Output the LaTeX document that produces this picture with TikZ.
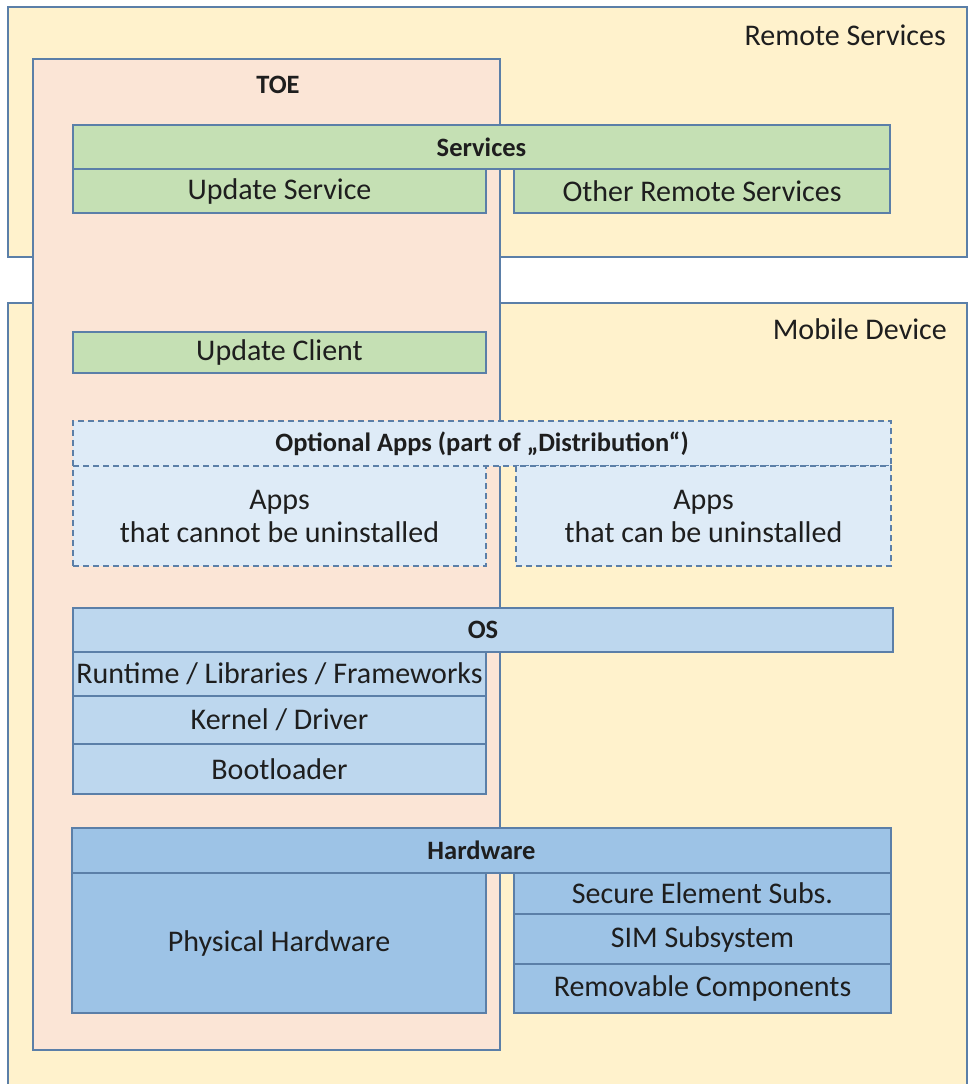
\documentclass[tikz,border=0pt]{standalone}
\usepackage{fontspec}
\setmainfont{Carlito}
\usetikzlibrary{positioning}
\definecolor{edge}{HTML}{5B7FA8}
\definecolor{shell}{HTML}{FFF2CC}
\definecolor{toefill}{HTML}{FBE5D6}
\definecolor{svcgreen}{HTML}{C5E0B4}
\definecolor{appblue}{HTML}{DEEBF7}
\definecolor{osblue}{HTML}{BDD7EE}
\definecolor{hwblue}{HTML}{9DC3E6}
\definecolor{ink}{HTML}{1E1E1E}
\tikzset{
  every picture/.style={line join=miter},
  wh/.style 2 args={minimum width=#1pt, minimum height=#2pt},
  layer/.style={draw=edge, line width=1.5pt, inner sep=0pt, outer sep=0pt,
    anchor=north west, text=ink, align=center, font=\fontsize{30}{33}\selectfont},
  head/.style={font=\fontsize{26.5}{30}\selectfont\bfseries},
  shellbox/.style={layer, fill=shell},
  toebox/.style={layer, fill=toefill},
  greenbox/.style={layer, fill=svcgreen},
  appbox/.style={layer, fill=appblue, dash pattern=on 6pt off 4pt},
  osbox/.style={layer, fill=osblue},
  hwbox/.style={layer, fill=hwblue},
  tag/.style={inner sep=0pt, text=ink, font=\fontsize{30}{33}\selectfont},
}
\begin{document}
\begin{tikzpicture}[x=1pt, y=-1pt]
\clip (0,0) rectangle (971,1084);
\fill[white] (0,0) rectangle (971,1084);
% Outer containers
\node[shellbox, wh={959}{250}] (remote) at (8,7) {};
\node[tag, anchor=east] (remotelbl) at (946,35) {Remote Services};
\node[shellbox, wh={959}{800}] (mobile) at (8,303) {};
\node[tag, anchor=east] (mobilelbl) at (947,329) {Mobile Device};

% Target of evaluation
\node[toebox, wh={467}{991}] (toe) at (33,59) {};
\node[tag, head] (toelbl) at (278,85) {TOE};

% Services
\node[greenbox, head, wh={817}{44}] (services) at (73,125) {Services};
\node[greenbox, wh={413}{44}] (updsvc) at (services.south west) {Update Service};
\node[greenbox, wh={376}{44}, anchor=north east] (othersvc) at (services.south east) {Other Remote Services};
\node[greenbox, wh={413}{41}] (updclient) at (73,332) {Update Client};

% Optional apps
\node[appbox, head, wh={818}{45}] (optapps) at (73,421) {Optional Apps (part of „Distribution“)};
\node[appbox, wh={413}{100}] (fixedapps) at (optapps.south west) {Apps\\that cannot be uninstalled};
\node[appbox, wh={375}{100}, anchor=north east] (freeapps) at (optapps.south east) {Apps\\that can be uninstalled};

% Operating system
\node[osbox, head, wh={820}{44}] (os) at (73,608) {OS};
\node[osbox, wh={413}{44}] (runtime) at (os.south west) {Runtime / Libraries / Frameworks};
\node[osbox, wh={413}{48}] (kernel) at (runtime.south west) {Kernel / Driver};
\node[osbox, wh={413}{50}] (boot) at (kernel.south west) {Bootloader};

% Hardware
\node[hwbox, head, wh={819}{45}] (hardware) at (72,828) {Hardware};
\node[hwbox, wh={414}{140}] (physical) at (hardware.south west) {Physical Hardware};
\node[hwbox, wh={377}{41}, anchor=north east] (secure) at (hardware.south east) {Secure Element Subs.};
\node[hwbox, wh={377}{50}] (sim) at (secure.south west) {SIM Subsystem};
\node[hwbox, wh={377}{49}] (removable) at (sim.south west) {Removable Components};
\end{tikzpicture}
\end{document}
